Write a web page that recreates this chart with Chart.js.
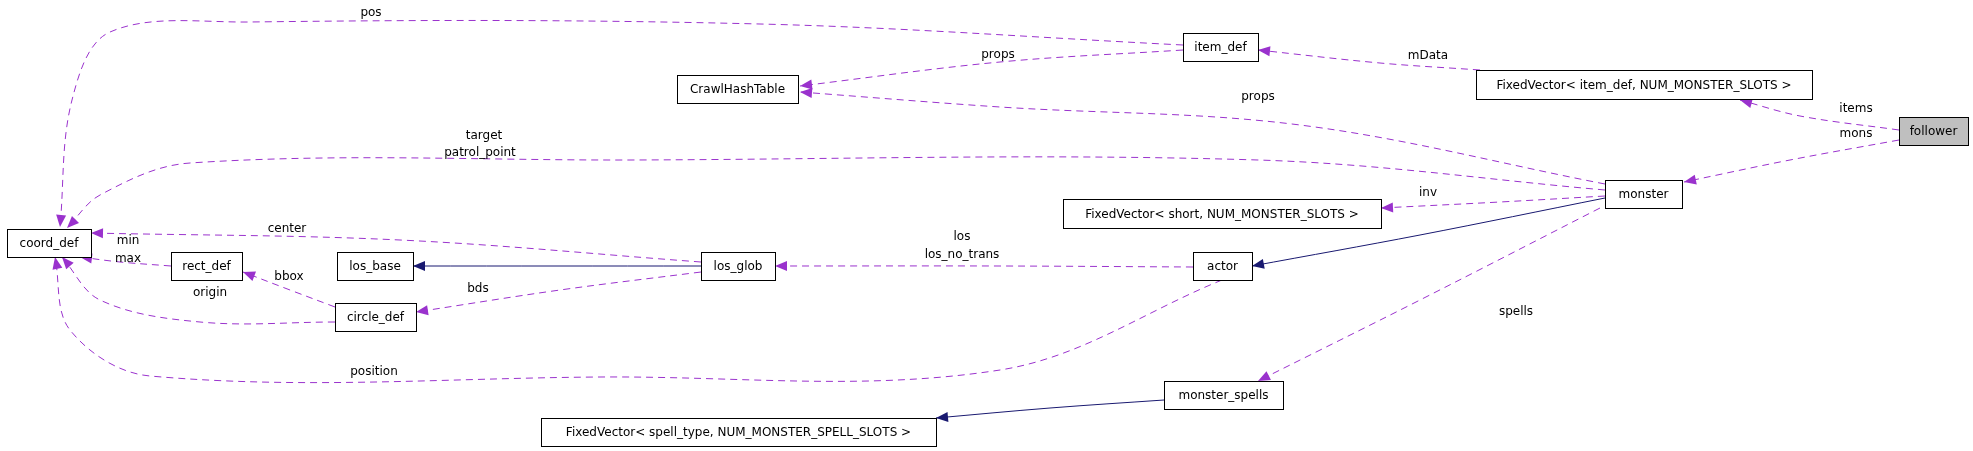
<!DOCTYPE html>
<html>
<head>
<meta charset="utf-8">
<script src="https://cdn.jsdelivr.net/npm/chart.js@4"></script>
<style>
  html, body { margin: 0; padding: 0; background: #fff; }
  #wrap { width: 1973px; height: 451px; }
</style>
</head>
<body>
<div id="wrap"><canvas id="graph" width="1973" height="451"></canvas></div>
<script>
// class boxes (pixel space of the diagram)
const nodeNames = ['follower', 'FixedVector< item_def, NUM_MONSTER_SLOTS >', 'item_def', 'CrawlHashTable',
    'monster', 'FixedVector< short, NUM_MONSTER_SLOTS >', 'coord_def', 'rect_def', 'los_base', 'los_glob',
    'circle_def', 'actor', 'monster_spells', 'FixedVector< spell_type, NUM_MONSTER_SPELL_SLOTS >'];
const nodeX1 = [1899, 1476, 1183, 677, 1605, 1063, 7, 171, 337, 701, 335, 1193, 1164, 541];
const nodeY1 = [117, 70, 33, 75, 180, 199, 229, 252, 252, 252, 303, 252, 381, 418];
const nodeX2 = [1968, 1812, 1258, 798, 1682, 1381, 91, 242, 413, 775, 416, 1252, 1283, 936];
const nodeY2 = [145, 99, 61, 103, 208, 228, 257, 280, 280, 280, 331, 280, 409, 446];

// edges: polylines, last point is the arrow tip
const edgePoints = [
    [[1183, 45], [760, 24], [250, 22], [110, 32], [72, 100], [60, 227]],
    [[1183, 50], [1000, 62], [800, 86]],
    [[1480, 70], [1380, 63], [1258, 50]],
    [[1899, 130], [1800, 116], [1740, 100]],
    [[1899, 140], [1790, 160], [1684, 182]],
    [[1605, 184], [1300, 125], [1000, 107], [800, 92]],
    [[1605, 190], [1258, 160], [630, 160], [190, 163], [100, 195], [67, 228]],
    [[1605, 196], [1500, 202], [1381, 208]],
    [[1605, 198], [1420, 235], [1252, 266]],
    [[1600, 208], [1420, 300], [1258, 381]],
    [[1193, 267], [1000, 266], [775, 266]],
    [[701, 262], [400, 240], [91, 233]],
    [[701, 266], [413, 266]],
    [[701, 272], [560, 290], [416, 312]],
    [[171, 266], [120, 262], [80, 257]],
    [[335, 307], [290, 290], [243, 272]],
    [[335, 322], [200, 322], [100, 300], [62, 257]],
    [[1222, 280], [1000, 370], [600, 377], [150, 376], [70, 330], [55, 257]],
    [[1164, 400], [1050, 408], [936, 418]]
];
const edgeSolid = [false, false, false, false, false, false, false, false, true, false, false, false, true, false, false, false, false, false, true];

// edge labels
const labelText = ['pos', 'props', 'mData', 'items', 'mons', 'props', 'target', 'patrol_point', 'inv', 'spells',
    'los', 'los_no_trans', 'center', 'bds', 'min', 'max', 'bbox', 'origin', 'position'];
const labelX = [371, 998, 1428, 1856, 1856, 1258, 484, 480, 1428, 1516, 962, 962, 287, 478, 128, 128, 289, 210, 374];
const labelY = [13, 55, 56, 109, 134, 97, 136, 153, 193, 312, 237, 255, 229, 289, 241, 259, 277, 293, 372];

const PURPLE = '#9a32cd';
const NAVY = '#191970';
const FONT = '12px "DejaVu Sans", sans-serif';

const datasets = edgePoints.map((pts, i) => ({
    data: pts.map(p => ({ x: p[0], y: p[1] })),
    showLine: true,
    borderColor: edgeSolid[i] ? NAVY : PURPLE,
    borderWidth: 1,
    borderDash: edgeSolid[i] ? [] : [7, 5],
    tension: 0.35,
    pointRadius: 0,
    fill: false
}));

const diagramPlugin = {
    id: 'diagram',
    afterDatasetsDraw(chart) {
        const c = chart.ctx;
        const xs = chart.scales.x, ys = chart.scales.y;
        const X = v => xs.getPixelForValue(v), Y = v => ys.getPixelForValue(v);
        c.save();
        // arrowheads
        edgePoints.forEach((pts, i) => {
            const a = pts[pts.length - 2], b = pts[pts.length - 1];
            const ang = Math.atan2(Y(b[1]) - Y(a[1]), X(b[0]) - X(a[0]));
            const tx = X(b[0]), ty = Y(b[1]);
            c.fillStyle = edgeSolid[i] ? NAVY : PURPLE;
            c.beginPath();
            c.moveTo(tx, ty);
            c.lineTo(tx - 12 * Math.cos(ang) + 5 * Math.sin(ang), ty - 12 * Math.sin(ang) - 5 * Math.cos(ang));
            c.lineTo(tx - 12 * Math.cos(ang) - 5 * Math.sin(ang), ty - 12 * Math.sin(ang) + 5 * Math.cos(ang));
            c.closePath();
            c.fill();
        });
        // boxes
        c.font = FONT;
        c.textAlign = 'center';
        c.textBaseline = 'middle';
        nodeNames.forEach((name, i) => {
            const x1 = X(nodeX1[i]), y1 = Y(nodeY1[i]), x2 = X(nodeX2[i]), y2 = Y(nodeY2[i]);
            c.fillStyle = i === 0 ? '#bfbfbf' : '#ffffff';
            c.fillRect(x1, y1, x2 - x1, y2 - y1);
            c.strokeStyle = '#000';
            c.lineWidth = 1;
            c.strokeRect(Math.round(x1) + 0.5, Math.round(y1) + 0.5, Math.round(x2 - x1), Math.round(y2 - y1));
            c.fillStyle = '#000';
            c.fillText(name, (x1 + x2) / 2, (y1 + y2) / 2 + 1);
        });
        // labels
        labelText.forEach((t, i) => {
            c.fillStyle = '#000';
            c.fillText(t, X(labelX[i]), Y(labelY[i]));
        });
        c.restore();
    }
};

new Chart(document.getElementById('graph'), {
    type: 'scatter',
    data: { datasets: datasets },
    options: {
        responsive: false,
        animation: false,
        devicePixelRatio: 1,
        layout: { padding: 0 },
        plugins: { legend: { display: false }, tooltip: { enabled: false } },
        scales: {
            x: { type: 'linear', min: 0, max: 1973, display: false },
            y: { type: 'linear', min: 0, max: 451, reverse: true, display: false }
        }
    },
    plugins: [diagramPlugin]
});
</script>
</body>
</html>
